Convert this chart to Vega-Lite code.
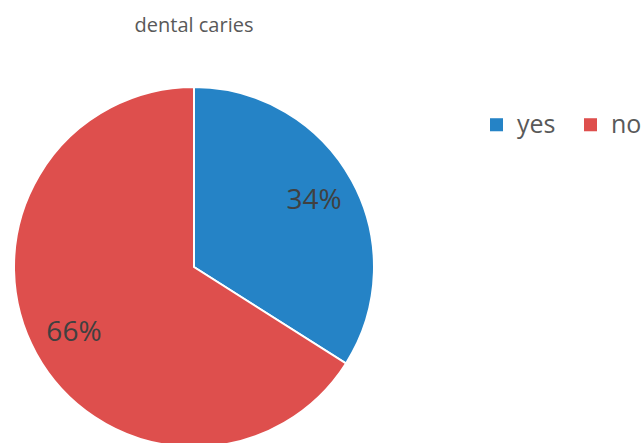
{
  "$schema": "https://vega.github.io/schema/vega-lite/v6.json",
  "width": 360,
  "height": 360,
  "autosize": "none",
  "padding": {"left": 14, "top": 87, "right": 269, "bottom": 0},
  "background": "white",
  "title": {
    "text": "dental caries",
    "anchor": "middle",
    "font": "Open Sans",
    "fontSize": 20,
    "fontWeight": "normal",
    "color": "#595959",
    "offset": 47
  },
  "data": {
    "values": [
      {"answer": "yes", "share": 34, "label": "34%"},
      {"answer": "no", "share": 66, "label": "66%"}
    ]
  },
  "encoding": {
    "theta": {"field": "share", "type": "quantitative", "stack": true},
    "order": {"field": "answer", "sort": "descending"},
    "color": {
      "field": "answer",
      "type": "nominal",
      "sort": ["yes", "no"],
      "scale": {"domain": ["yes", "no"], "range": ["#2583C6", "#DE4F4D"]},
      "legend": {
        "title": null,
        "orient": "none",
        "direction": "horizontal",
        "legendX": 470,
        "legendY": 25,
        "symbolType": "square",
        "symbolSize": 170,
        "symbolStrokeWidth": 0,
        "labelFont": "Open Sans",
        "labelFontSize": 25,
        "labelColor": "#595959",
        "labelOffset": 8,
        "columnPadding": 22
      }
    }
  },
  "layer": [
    {
      "mark": {"type": "arc", "radius": 180, "stroke": "white", "strokeWidth": 2}
    },
    {
      "mark": {
        "type": "text",
        "radius": 137,
        "font": "Open Sans",
        "fontSize": 28,
        "color": "#404040"
      },
      "encoding": {
        "text": {"field": "label"},
        "color": {"value": "#404040"}
      }
    }
  ],
  "config": {"view": {"stroke": null}}
}
